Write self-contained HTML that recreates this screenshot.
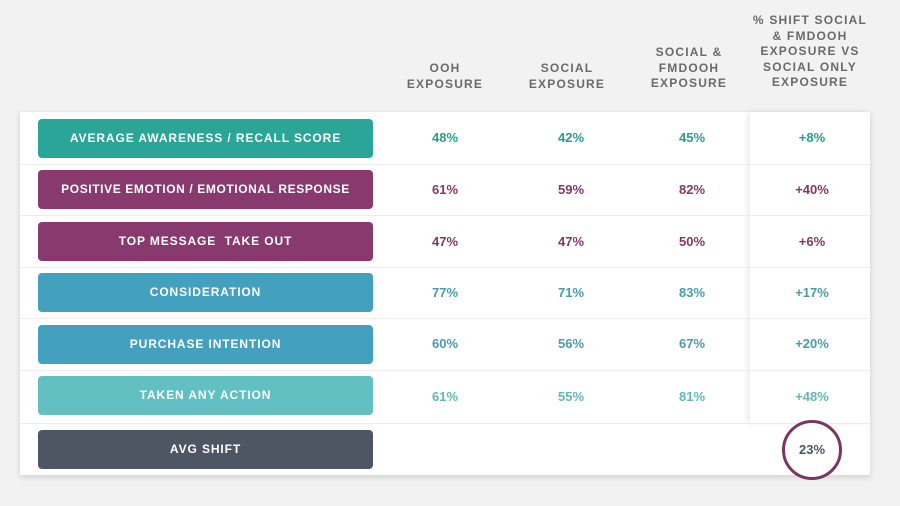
<!DOCTYPE html>
<html><head><style>
body{margin:0;width:900px;height:506px;background:#f3f2f3;position:relative;overflow:hidden;font-family:"Liberation Sans",sans-serif}
.card{position:absolute;left:20px;top:112px;width:850px;height:363px;background:#fff;box-shadow:0 2px 6px rgba(0,0,0,.15)}
.panel{position:absolute;left:750px;top:112px;width:120px;height:311px;background:#fff;box-shadow:-3px 0 5px rgba(0,0,0,.07)}
.sep{position:absolute;left:20px;width:850px;height:1px;background:#ececee}
.box{position:absolute;left:38px;width:335px;height:39px;border-radius:4px;color:#fff;font-weight:bold;font-size:12px;letter-spacing:0.9px;text-align:center;line-height:39px;white-space:nowrap}
.v{position:absolute;width:80px;margin-left:-40px;text-align:center;font-size:13px;font-weight:bold}
.h{position:absolute;width:130px;margin-left:-65px;text-align:center;font-size:12px;font-weight:bold;color:#6a6a6a;letter-spacing:1.2px;line-height:15.6px}
</style></head><body>
<div class="h" style="left:445px;top:61px">OOH<br>EXPOSURE</div>
<div class="h" style="left:567px;top:61px">SOCIAL<br>EXPOSURE</div>
<div class="h" style="left:689px;top:45px">SOCIAL &amp;<br>FMDOOH<br>EXPOSURE</div>
<div class="h" style="left:810px;top:13px">% SHIFT SOCIAL<br>&amp; FMDOOH<br>EXPOSURE VS<br>SOCIAL ONLY<br>EXPOSURE</div>
<div class="card"></div>
<div class="panel"></div>
<div class="sep" style="top:164px"></div>
<div class="sep" style="top:215px"></div>
<div class="sep" style="top:267px"></div>
<div class="sep" style="top:318px"></div>
<div class="sep" style="top:370px"></div>
<div class="sep" style="top:423px"></div>

<div class="box" style="top:119px;background:#2aa597">AVERAGE AWARENESS / RECALL SCORE</div>
<div class="box" style="top:170px;background:#883a6e;letter-spacing:0.6px">POSITIVE EMOTION / EMOTIONAL RESPONSE</div>
<div class="box" style="top:222px;background:#883a6e">TOP MESSAGE&nbsp; TAKE OUT</div>
<div class="box" style="top:273px;background:#44a0bf">CONSIDERATION</div>
<div class="box" style="top:325px;background:#44a0bf">PURCHASE INTENTION</div>
<div class="box" style="top:376px;background:#62bfc2">TAKEN ANY ACTION</div>
<div class="box" style="top:430px;background:#4e5663">AVG SHIFT</div>

<div style="color:#2a9d8c">
<div class="v" style="left:445px;top:130px">48%</div><div class="v" style="left:571px;top:130px">42%</div><div class="v" style="left:692px;top:130px">45%</div><div class="v" style="left:812px;top:130px">+8%</div></div>
<div style="color:#7e3a63">
<div class="v" style="left:445px;top:182px">61%</div><div class="v" style="left:571px;top:182px">59%</div><div class="v" style="left:692px;top:182px">82%</div><div class="v" style="left:812px;top:182px">+40%</div>
<div class="v" style="left:445px;top:234px">47%</div><div class="v" style="left:571px;top:234px">47%</div><div class="v" style="left:692px;top:234px">50%</div><div class="v" style="left:812px;top:234px">+6%</div></div>
<div style="color:#4a9bb0">
<div class="v" style="left:445px;top:285px">77%</div><div class="v" style="left:571px;top:285px">71%</div><div class="v" style="left:692px;top:285px">83%</div><div class="v" style="left:812px;top:285px">+17%</div>
<div class="v" style="left:445px;top:336px">60%</div><div class="v" style="left:571px;top:336px">56%</div><div class="v" style="left:692px;top:336px">67%</div><div class="v" style="left:812px;top:336px">+20%</div></div>
<div style="color:#62b8b8">
<div class="v" style="left:445px;top:389px">61%</div><div class="v" style="left:571px;top:389px">55%</div><div class="v" style="left:692px;top:389px">81%</div><div class="v" style="left:812px;top:389px">+48%</div></div>

<div style="position:absolute;left:782px;top:420px;width:54px;height:54px;border:3px solid #7a3562;border-radius:50%;background:#fff"></div>
<div class="v" style="left:812px;top:442px;color:#4e5663">23%</div>
</body></html>
